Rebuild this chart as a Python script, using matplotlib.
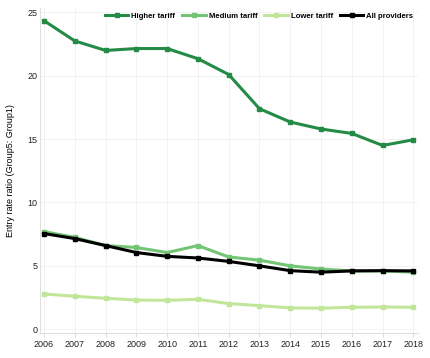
import matplotlib.pyplot as plt

plt.rcParams["font.family"] = ["Liberation Sans", "DejaVu Sans"]

years = list(range(2006, 2019))
higher = [24.35, 22.75, 22.0, 22.15, 22.15, 21.35, 20.1, 17.4, 16.35, 15.8, 15.45, 14.5, 14.95]
medium = [7.7, 7.25, 6.6, 6.45, 6.05, 6.6, 5.7, 5.45, 5.0, 4.75, 4.6, 4.6, 4.5]
lower = [2.78, 2.6, 2.44, 2.3, 2.28, 2.36, 2.02, 1.86, 1.68, 1.66, 1.73, 1.75, 1.73]
all_providers = [7.55, 7.15, 6.6, 6.05, 5.75, 5.62, 5.35, 5.0, 4.62, 4.5, 4.6, 4.62, 4.6]

series = [
    ("Higher tariff", higher, "#238b45"),
    ("Medium tariff", medium, "#74c476"),
    ("Lower tariff", lower, "#c2e699"),
    ("All providers", all_providers, "#000000"),
]

fig = plt.figure(figsize=(4.3, 3.58), dpi=100)
ax = fig.add_axes([40 / 430, 25 / 358, 378 / 430, 325 / 358])

for label, vals, color in series:
    ax.plot(years, vals, color=color, lw=2.2, marker="s", ms=3.5, label=label)

ax.set_xlim(2005.87, 2018.15)
ax.set_ylim(-0.3, 25.35)
ax.set_xticks(years)
ax.set_yticks([0, 5, 10, 15, 20, 25])
ax.tick_params(labelsize=6.5, length=3, color="#dddddd", pad=2, labelcolor="#222222")
ax.tick_params(axis="y", length=0)
ax.grid(True, color="#f0f0f0", lw=0.6)
ax.set_axisbelow(True)
for side in ["top", "right"]:
    ax.spines[side].set_visible(False)
for side in ["left", "bottom"]:
    ax.spines[side].set_color("#e0e0e0")
ax.set_ylabel("Entry rate ratio (Group5: Group1)", fontsize=6.5, labelpad=9)

leg = ax.legend(loc="upper right", ncol=4, frameon=False,
                prop={"size": 5.6, "weight": "bold"}, handlelength=3.0,
                columnspacing=0.9, handletextpad=0.4, borderaxespad=0.2)

plt.savefig("out.png", dpi=100)
